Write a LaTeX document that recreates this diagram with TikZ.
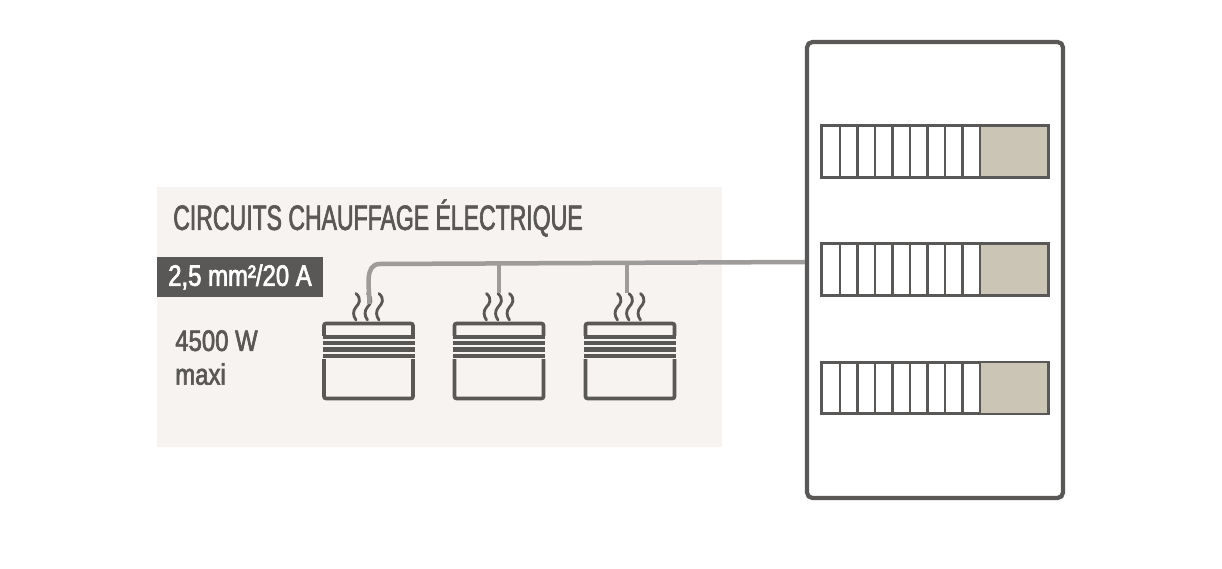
\documentclass[tikz,border=0pt]{standalone}
\usepackage{fontspec}
\usepackage{xcolor}
\usetikzlibrary{positioning, calc}
\newfontfamily\dinfont[FakeStretch=0.81, FakeBold=2.2]{Liberation Sans}
\newfontfamily\dintitle[FakeStretch=0.655, FakeBold=1.8]{Liberation Sans}
\definecolor{inkdark}{RGB}{89, 88, 86}
\definecolor{wiregray}{RGB}{158, 156, 154}
\definecolor{fillsoft}{RGB}{246, 243, 240}
\definecolor{fillsand}{RGB}{203, 197, 182}
\tikzset{
    zone/.style    ={fill=fillsoft, minimum width=14.125cm, minimum height=6.5cm, inner sep=0pt},
    tag/.style     ={fill=inkdark, text=white, minimum width=4.15cm, minimum height=1cm,
                     inner sep=0pt, font=\dinfont\fontsize{21}{25}\selectfont},
    lbl/.style     ={text=inkdark, inner sep=0pt, align=left, font=\dinfont\fontsize{21}{24}\selectfont},
    ttl/.style     ={lbl, font=\dintitle\fontsize{25}{30}\selectfont},
    board/.style   ={draw=inkdark, line width=3pt, fill=white, rounded corners=4pt,
                     minimum width=6.4cm, minimum height=11.4cm, inner sep=0pt},
    breaker/.style ={draw=inkdark, line width=1.4pt, fill=white, minimum width=5.625cm,
                     minimum height=1.25cm, inner sep=0pt},
    rad/.style     ={draw=inkdark, line width=2.6pt, rounded corners=1.5pt, minimum width=2.225cm,
                     minimum height=1.875cm, inner sep=0pt},
    wire/.style    ={draw=wiregray, line width=3.2pt},
    fin/.style     ={draw=inkdark, line width=3.1pt},
    steam/.style   ={draw=inkdark, line width=2pt, line cap=round},
    divider/.style ={draw=inkdark, line width=1.5pt}
}
\begin{document}
\begin{tikzpicture}[x=0.025cm, y=-0.025cm]
  \useasboundingbox (0,0) rectangle (1222,569);

  % ---- tinted zone and texts
  \node[zone] (zn) at (439.5,317) {};
  \node[ttl, anchor=west] (title) at (173,218) {CIRCUITS CHAUFFAGE ÉLECTRIQUE};
  \node[tag] (section) at (240,277) {\raisebox{-1pt}{2,5 mm²/20 A}};
  \node[lbl, anchor=north west] (power) at (175,330) {4500 W\\maxi};

  % ---- board
  \node[board] (bd) at (935,270) {};
  \foreach \id/\yy in {a/151.5, b/269.5, c/388}{
    \node[breaker] (br\id) at (935,\yy) {};
    \fill[fillsand] (980,\yy-25) rectangle (1047.5,\yy+25);
    \draw[divider] (br\id.north west) rectangle (br\id.south east);
    \foreach \k in {1,...,9}
      \draw[divider] (822.5+\k*17.5,\yy-25) -- (822.5+\k*17.5,\yy+25);
  }

  % ---- heaters
  \foreach \id/\xx in {1/368.5, 2/499, 3/630}{
    \node[rad] (rad\id) at (\xx,361) {};
    \fill[fillsoft] (\xx-48,336) rectangle (\xx+48,358.8);
    \foreach \yy in {337,343.3,349.6,356}
      \draw[fin] (\xx-46,\yy) -- (\xx+46,\yy);
    \foreach \dx in {-12.5,-1,10.5}
      \draw[steam] (\xx+\dx,293.5) .. controls (\xx+\dx+6,299) and (\xx+\dx+3,304)
                   .. (\xx+\dx,307) .. controls (\xx+\dx-3.5,311) and (\xx+\dx-3,316) .. (\xx+\dx,320);
  }

  % ---- wiring
  \coordinate (feed) at (bd.west |- 0,262);
  \coordinate (end1) at (369.5,304);
  \coordinate (end2) at (499,293);
  \coordinate (end3) at (627,293);
  \draw[wire] (feed) -- (380,264) to[out=180, in=90] (end1);
  \draw[wire] (499,263.5) -- (end2);
  \draw[wire] (627,263) -- (end3);
\end{tikzpicture}
\end{document}
